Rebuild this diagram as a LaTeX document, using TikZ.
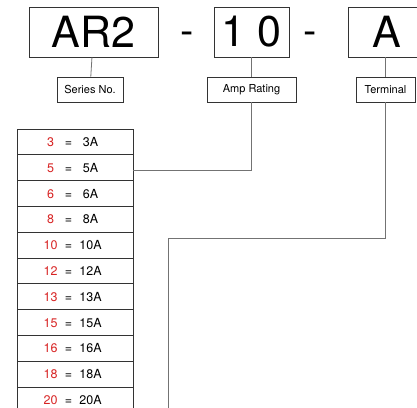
\documentclass[tikz,border=0pt]{standalone}
\usepackage{fontspec}
\setmainfont{TeX Gyre Heros}
\usepackage{xcolor}
\usetikzlibrary{positioning,calc}
\definecolor{numred}{RGB}{215,35,35}

\begin{document}
\begin{tikzpicture} [x=1pt, y=-1pt,
    line width=0.8pt,
    code/.style={draw=black!80, minimum height=50pt, inner sep=0pt, font=\fontsize{43}{43}\selectfont},
    tag/.style={draw=black!80, minimum height=25pt, inner sep=0pt, font=\fontsize{11}{13}\selectfont},
    row/.style={draw=black!80, minimum width=116pt, minimum height=25.8pt, inner sep=0pt},
    rowtxt/.style={inner sep=0pt, anchor=base, font=\fontsize{12.5}{14}\selectfont},
    hyphen/.style={inner sep=0pt, anchor=base, font=\fontsize{40}{40}\selectfont},
    wire/.style={draw=black!55}]
  \clip (0,0) rectangle (417,407);

  \node[code, minimum width=129pt] (AR)  at (93.5,32)  {AR2};
  \node[code, minimum width=75pt]  (Amp) at (251.5,32) {1 0};
  \node[code, minimum width=78pt]  (Ter) at (387,32)   {A};
  \node[hyphen] (sepA) at (187,44) {-};
  \node[hyphen] (sepB) at (310,44) {-};

  \node[tag, minimum width=66pt] (series) at (90,89.5)    {Series No.};
  \node[tag, minimum width=89pt] (rating) at (251.5,89.5) {Amp Rating};
  \node[tag, minimum width=59pt] (term)   at (385.5,89.5) {Terminal};

  \foreach \n [count=\i from 0] in {3,5,6,8,10,12,13,15,16,18,20} {
    \node[row] (r\n) at (75,{141.9+25.8*\i}) {};
    \node[rowtxt, text=numred] at ($(r\n.west)+(34,4.5)$) {\n};
    \node[rowtxt] at ($(r\n.west)+(52,4.5)$) {=};
    \node[rowtxt] at ($(r\n.west)+(74,4.5)$) {\n{}A};
  }

  \coordinate (bend) at (168,238);
  \coordinate (tail) at (168,412);

  \draw[wire] (AR) -- (series);
  \draw[wire] (Amp) -- (rating);
  \draw[wire] (term.north) -- (term.north |- Ter.south);
  \draw[wire] (rating.south) |- ([yshift=-3pt]r5.east);
  \draw[wire] (term.south) |- (bend) -- (tail);
\end{tikzpicture}
\end{document}
